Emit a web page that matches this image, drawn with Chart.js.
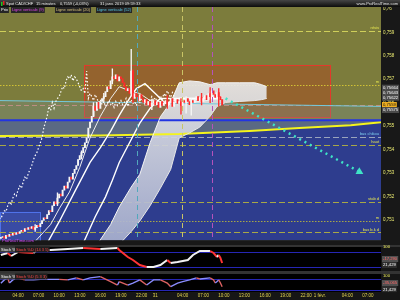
<!DOCTYPE html>
<html>
<head>
<meta charset="utf-8">
<title>Spot CAD/CHF 15 minutes</title>
<script src="https://cdn.jsdelivr.net/npm/chart.js@4.4.1/dist/chart.umd.min.js"></script>
<style>
  html, body { margin: 0; padding: 0; background: #151515; }
  #wrap { position: relative; width: 400px; height: 300px; overflow: hidden; }
  #wrap canvas { position: absolute; left: 0; }
</style>
</head>
<body>
<div id="wrap">
  <canvas id="priceChart" width="400" height="245" style="top:0"></canvas>
  <canvas id="stochSlow" width="400" height="27" style="top:245px"></canvas>
  <canvas id="stochFast" width="400" height="29" style="top:271px"></canvas>
</div>
<script>
// x axis is counted in 15 minute bars, bar 0 = 30 janv. 01:30
const xMin = -0.5, xMax = 221.6;
const xTickBars = [10, 22, 34, 46, 58, 70, 82, 90, 106, 118, 130, 142, 154, 166, 178, 186, 202, 214];
const xTickLabels = ['04:00', '07:00', '10:00', '13:00', '16:00', '19:00', '22:00', '31', '04:00', '07:00',
  '10:00', '13:00', '16:00', '19:00', '22:00', '1 févr.', '04:00', '07:00'];

const priceMin = 0.750126, priceMax = 0.760084;
const priceTicks = [0.760, 0.759, 0.758, 0.757, 0.756, 0.755, 0.754, 0.753, 0.752, 0.751];

// candles: open of a bar is the previous close
const firstOpen = 0.75021;
const closes = [
  0.75025, 0.75029, 0.75021, 0.75034, 0.75029, 0.75038,
  0.75034, 0.75042, 0.75038, 0.75046, 0.75042, 0.75050,
  0.75055, 0.75050, 0.75063, 0.75059, 0.75067, 0.75063,
  0.75071, 0.75059, 0.75067, 0.75076, 0.75071, 0.75084,
  0.75097, 0.75109, 0.75105, 0.75122, 0.75139, 0.75135,
  0.75160, 0.75177, 0.75168, 0.75193, 0.75210, 0.75202,
  0.75227, 0.75244, 0.75235, 0.75261, 0.75282, 0.75273,
  0.75298, 0.75315, 0.75332, 0.75357, 0.75374, 0.75387,
  0.75408, 0.75429, 0.75450, 0.75492, 0.75517, 0.75542,
  0.75584, 0.75567, 0.75601, 0.75576, 0.75605, 0.75618,
  0.75626, 0.75647, 0.75668, 0.75660, 0.75693, 0.75710,
  0.75702, 0.75719, 0.75693, 0.75710, 0.75702, 0.75685,
  0.75668, 0.75651, 0.75660, 0.75639, 0.75735, 0.75618,
  0.75639, 0.75626, 0.75609, 0.75635, 0.75618, 0.75601,
  0.75613, 0.75592, 0.75605, 0.75584, 0.75597, 0.75609,
  0.75592, 0.75601, 0.75580, 0.75605, 0.75588, 0.75597,
  0.75609, 0.75592, 0.75601, 0.75618, 0.75584, 0.75601,
  0.75613, 0.75597, 0.75605, 0.75588, 0.75609, 0.75601,
  0.75618, 0.75605, 0.75592, 0.75609, 0.75601, 0.75613,
  0.75626, 0.75609, 0.75622, 0.75605, 0.75618, 0.75630,
  0.75613, 0.75639, 0.75626, 0.75651, 0.75635, 0.75622,
  0.75643, 0.75626, 0.75613, 0.75590
];
const wickBars  = [20, 33, 47, 54, 60, 65, 76, 77, 88, 97, 105, 108, 111, 117, 122, 127];
const wickLows  = [0.75050, 0.75160, 0.75360, 0.75540, 0.75600, 0.75680, 0.75630, 0.75600,
  0.75570, 0.75575, 0.75551, 0.75555, 0.75547, 0.75590, 0.75600, 0.75585];
const wickHighs = [0.75080, 0.75215, 0.75395, 0.75600, 0.75640, 0.75744, 0.75828, 0.75740,
  0.75615, 0.75630, 0.75618, 0.75626, 0.75618, 0.75640, 0.75664, 0.75660];

// ichimoku
const chikouShift = 26;
const tenkanBars = [20, 29, 34, 40, 46, 52, 58, 64, 69, 75, 81, 87, 99, 116, 129];
const tenkanPrices = [0.75008, 0.75080, 0.75147, 0.75219, 0.75324, 0.75450, 0.75542, 0.75618,
  0.75668, 0.75651, 0.75639, 0.75609, 0.75601, 0.75605, 0.75618];
const kijunBars = [27, 34, 43, 52, 58, 64, 69, 75, 79, 84, 90, 96, 104, 116, 129];
const kijunPrices = [0.75000, 0.75092, 0.75219, 0.75345, 0.75408, 0.75479, 0.75546, 0.75618,
  0.75660, 0.75681, 0.75639, 0.75597, 0.75618, 0.75618, 0.75626];
const kijun2Bars = [48, 55, 61, 65, 69, 75, 81, 87, 93, 102, 110, 122, 129];
const kijun2Prices = [0.75000, 0.75113, 0.75198, 0.75269, 0.75345, 0.75429, 0.75513, 0.75576,
  0.75618, 0.75618, 0.75618, 0.75618, 0.75618];
const cloudBars = [57, 64, 69, 76, 81, 87, 93, 99, 104, 110, 116, 122, 126, 131, 139, 148, 152, 155];
const cloudTop = [0.75004, 0.75080, 0.75155, 0.75240, 0.75294, 0.75429, 0.75540, 0.75601, 0.75685,
  0.75693, 0.75689, 0.75677, 0.75685, 0.75685, 0.75685, 0.75685, 0.75677, 0.75668];
const cloudBottom = [0.74960, 0.74970, 0.74995, 0.75050, 0.75095, 0.75160, 0.75235, 0.75315, 0.75450,
  0.75471, 0.75496, 0.75542, 0.75584, 0.75601, 0.75605, 0.75609, 0.75613, 0.75618];

// drawn objects
const yellowBars = [-0.5, 58, 104, 145, 174, 204, 221.6];
const yellowPrices = [0.75458, 0.75460, 0.75466, 0.75479, 0.75492, 0.75504, 0.75517];
const trendBars = [-0.5, 221.6];
const trendPrices = [0.75609, 0.75584];
const supportPrice = 0.755252;
const levelPrices = [0.75908, 0.75677, 0.75592, 0.75454, 0.75420, 0.75177, 0.75097, 0.75046];
const levelTexts = ['résis', 'm', '', 'bas chikou', 'haut', 'stab d', 'm', 'bas b.k d'];
const zoneBars = [48.5, 192];
const zonePrices = [0.75760, 0.75538];
const boxBars = [-0.5, 22.8];
const boxPrices = [0.75134, 0.74990];
const verticalBars = [123, 105.5, 79.5];
const arrowBars = [131, 209];
const arrowPrices = [0.75618, 0.75305];
const axisTagPrices = [0.75664, 0.75643, 0.75622, 0.7559, 0.75575];
const lastPrice = 0.7559;

// stochastics
const stochLevels = [80, 20];
const stochSlowBars = [0, 4, 6, 10, 14, 19, 21, 29, 39, 48, 58, 68, 69, 74, 77, 81, 85, 89, 93, 97,
  99, 103, 109, 112, 116, 122, 124, 126, 127, 128, 129];
const stochSlowValues = [68, 76, 64, 80, 78, 76, 88, 88, 92, 96, 92, 96, 88, 60, 48, 28, 20, 20, 28, 48,
  36, 40, 48, 68, 84, 84, 76, 60, 68, 56, 36];
const stochFastBars = [0, 2, 4, 5, 7, 9, 14, 19, 23, 34, 39, 44, 48, 52, 58, 64, 68, 69, 74, 77, 81, 85,
  89, 93, 97, 99, 103, 106, 110, 114, 116, 122, 124, 125, 126, 127, 128, 129];
const stochFastValues = [57, 75, 86, 58, 75, 86, 75, 75, 78, 78, 75, 86, 75, 86, 93, 66, 47, 66, 47, 58, 75, 47,
  75, 75, 58, 38, 58, 66, 75, 86, 80, 86, 75, 58, 66, 75, 58, 38];
const stochSlowTags = [[100, '100'], [52, '-17,290'], [28, '21,429']];
const stochFastTags = [[100, '100'], [58, '-35,065'], [25, '21,429']];

const FONT = '"Liberation Sans", Arial, sans-serif';

const pts = (bars, vals) => bars.map((b, i) => ({ x: b, y: vals[i] }));
const opens = closes.map((c, i) => i === 0 ? firstOpen : closes[i - 1]);
const candleColor = i => closes[i] >= opens[i] ? '#f6f6f6' : '#ff2a2a';
const fmtPrice = v => v.toFixed(5).replace(/0+$/, '').replace('.', ',');

function tag(ctx, text, x, y, color, bg, size) {
  ctx.font = (size || 4) + 'px ' + FONT;
  ctx.textBaseline = 'middle';
  ctx.textAlign = 'left';
  const w = ctx.measureText(text).width;
  if (bg) {
    ctx.fillStyle = bg;
    ctx.fillRect(x - 1, y - 3, w + 2, 6);
  }
  ctx.fillStyle = color;
  ctx.fillText(text, x, y + 0.3);
}

function hLine(ctx, a, y, color, width, dash) {
  ctx.strokeStyle = color;
  ctx.lineWidth = width;
  ctx.setLineDash(dash || []);
  ctx.beginPath();
  ctx.moveTo(a.left, y);
  ctx.lineTo(a.right, y);
  ctx.stroke();
}

const levelStyles = [
  ['#cfcf5a', [6, 3]], ['#d2c234', [1.5, 1.5]], ['#cf8a70', [5, 3]], ['#9aa4bc', [6, 3]],
  ['#a8a846', [6, 3]], ['#a8a846', [6, 3]], ['#a8a846', [1.5, 1.5]], ['#a8a846', [6, 3]]
];
const verticalColors = ['#b452bc', '#c9c466', '#52a8bc'];

const priceBackdrop = {
  id: 'priceBackdrop',
  beforeDraw(chart) {
    const { ctx, chartArea: a, scales: { x, y } } = chart;
    ctx.save();
    ctx.fillStyle = '#181818';
    ctx.fillRect(0, 0, chart.width, chart.height);
    ctx.beginPath();
    ctx.rect(a.left, a.top, a.width, a.height);
    ctx.clip();
    ctx.fillStyle = '#7c7c3c';
    ctx.fillRect(a.left, a.top, a.width, a.height);
    const ys = y.getPixelForValue(supportPrice);
    ctx.fillStyle = '#5a6983';
    ctx.fillRect(a.left, ys, a.width, a.bottom - ys);
    // blue area under the yellow average
    ctx.beginPath();
    yellowBars.forEach((b, i) => {
      const px = x.getPixelForValue(b), py = y.getPixelForValue(yellowPrices[i]);
      if (i === 0) ctx.moveTo(px, py); else ctx.lineTo(px, py);
    });
    ctx.lineTo(a.right, a.bottom);
    ctx.lineTo(a.left, a.bottom);
    ctx.closePath();
    ctx.fillStyle = '#2e3d8e';
    ctx.fill();
    // lower left box
    const bx0 = x.getPixelForValue(boxBars[0]), bx1 = x.getPixelForValue(boxBars[1]);
    const by0 = y.getPixelForValue(boxPrices[0]), by1 = y.getPixelForValue(boxPrices[1]);
    ctx.fillStyle = 'rgba(90,120,230,0.25)';
    ctx.fillRect(bx0, by0, bx1 - bx0, by1 - by0);
    ctx.strokeStyle = '#4f72ea';
    ctx.lineWidth = 1;
    ctx.strokeRect(Math.round(bx0) + 0.5, Math.round(by0) + 0.5, Math.round(bx1 - bx0), Math.round(by1 - by0));
    // red zone
    const zx0 = x.getPixelForValue(zoneBars[0]), zx1 = x.getPixelForValue(zoneBars[1]);
    const zy0 = y.getPixelForValue(zonePrices[0]), zy1 = y.getPixelForValue(zonePrices[1]);
    ctx.fillStyle = 'rgba(178,68,28,0.45)';
    ctx.fillRect(zx0, zy0, zx1 - zx0, zy1 - zy0);
    ctx.strokeStyle = '#e3392b';
    ctx.strokeRect(Math.round(zx0) + 0.5, Math.round(zy0) + 0.5, Math.round(zx1 - zx0), Math.round(zy1 - zy0));
    // horizontal levels
    levelPrices.forEach((p, i) => {
      hLine(ctx, a, Math.round(y.getPixelForValue(p)) + 0.5, levelStyles[i][0], 1, levelStyles[i][1]);
    });
    ctx.restore();
  },
  afterDatasetsDraw(chart) {
    const { ctx, chartArea: a, scales: { x } } = chart;
    ctx.save();
    ctx.lineWidth = 1;
    ctx.setLineDash([5, 4]);
    verticalBars.forEach((b, i) => {
      const px = Math.round(x.getPixelForValue(b)) + 0.5;
      ctx.strokeStyle = verticalColors[i];
      ctx.beginPath();
      ctx.moveTo(px, a.top);
      ctx.lineTo(px, a.bottom);
      ctx.stroke();
    });
    ctx.restore();
  },
  afterDraw(chart) {
    const { ctx, chartArea: a, scales: { y } } = chart;
    ctx.save();
    // header bar
    const g = ctx.createLinearGradient(0, 0, 0, 7);
    g.addColorStop(0, '#454545');
    g.addColorStop(1, '#0c0c0c');
    ctx.fillStyle = g;
    ctx.fillRect(0, 0, chart.width, 7);
    ctx.fillStyle = '#22c022';
    ctx.fillRect(1, 2, 1.5, 4);
    ctx.fillStyle = '#e02020';
    ctx.fillRect(3, 1, 1.5, 4);
    tag(ctx, 'Spot CAD/CHF', 6, 3.5, '#e8e8e8');
    tag(ctx, '15 minutes', 36, 3.5, '#e8e8e8');
    tag(ctx, '0,7559 (-0,03%)', 60, 3.5, '#e8e8e8');
    tag(ctx, '31 janv. 2019 09:59:33', 100, 3.5, '#e8e8e8');
    ctx.font = '4px ' + FONT;
    ctx.textAlign = 'right';
    ctx.fillStyle = '#e0e0e0';
    ctx.fillText('www.ProRealTime.com', 398, 4);
    // legend row
    tag(ctx, 'Prix', 1, 10, '#ffffff', '#262626');
    tag(ctx, 'Ligne verticale (9)', 12, 10, '#e246e6', '#262626');
    tag(ctx, 'Ligne verticale (20)', 56, 10, '#d8c27a', '#262626');
    tag(ctx, 'Ligne verticale (52)', 97, 10, '#56c8e4', '#262626');
    // level names near the right edge
    ctx.font = '4px ' + FONT;
    ctx.textAlign = 'right';
    ctx.textBaseline = 'bottom';
    levelPrices.forEach((p, i) => {
      if (!levelTexts[i]) return;
      ctx.fillStyle = levelStyles[i][0] === '#9aa4bc' ? '#7fd0f0' : '#e8e850';
      ctx.fillText(levelTexts[i], a.right - 2, y.getPixelForValue(p) - 1);
    });
    // watermark
    tag(ctx, 'ProRealTime.com', 2, 241, '#d448ff');
    // price tags on the axis
    let prev = -99;
    axisTagPrices.forEach(p => {
      const py = Math.max(y.getPixelForValue(p), prev + 5);
      prev = py;
      const isLast = p === lastPrice;
      tag(ctx, fmtPrice(p), a.right + 2, py,
        isLast ? '#111111' : '#ffffff', isLast ? '#f0b020' : '#4a4a4a', 4.2);
    });
    ctx.restore();
  }
};

const cloudFill = c => {
  const ch = c.chart, a = ch.chartArea;
  if (!a) return 'rgba(220,220,228,0.85)';
  const g = ch.ctx.createLinearGradient(0, a.top + 75, 0, a.bottom);
  g.addColorStop(0, 'rgba(232,232,232,0.92)');
  g.addColorStop(1, 'rgba(168,176,206,0.92)');
  return g;
};

new Chart(document.getElementById('priceChart'), {
  type: 'line',
  data: {
    datasets: [
      { label: 'arrow', data: pts(arrowBars, arrowPrices), borderColor: '#3fe3c6', borderWidth: 2.5,
        borderDash: [2, 4], pointRadius: [0, 4.5], pointStyle: 'triangle', pointRotation: 119,
        pointBackgroundColor: '#3fe3c6', pointBorderWidth: 0, order: 0 },
      { type: 'bar', label: 'candles', data: closes.map((c, i) => ({ x: i, y: [opens[i], c] })),
        backgroundColor: closes.map((c, i) => candleColor(i)), barThickness: 1.3, grouped: false, order: 1 },
      { type: 'bar', label: 'wicks', data: wickBars.map((b, i) => ({ x: b, y: [wickLows[i], wickHighs[i]] })),
        backgroundColor: wickBars.map(b => candleColor(b)), barThickness: 0.7, grouped: false, order: 2 },
      { label: 'chikou', data: closes.map((c, i) => ({ x: i - chikouShift, y: c })), borderColor: '#ffffff',
        borderWidth: 1.2, borderDash: [1.5, 2], order: 3 },
      { label: 'tenkan', data: pts(tenkanBars, tenkanPrices), borderColor: '#eeeeee', borderWidth: 1, order: 3 },
      { label: 'kijun', data: pts(kijunBars, kijunPrices), borderColor: '#ffffff', borderWidth: 1.4, order: 3 },
      { label: 'kijun2', data: pts(kijun2Bars, kijun2Prices), borderColor: '#ffffff', borderWidth: 1.4, order: 3 },
      { label: 'cloudTop', data: pts(cloudBars, cloudTop), borderColor: '#f4f4f4', borderWidth: 1,
        fill: '+1', backgroundColor: cloudFill, order: 4 },
      { label: 'cloudBottom', data: pts(cloudBars, cloudBottom), borderColor: '#e6e6e6', borderWidth: 1, order: 4 },
      { label: 'trend', data: pts(trendBars, trendPrices), borderColor: '#74c9dc', borderWidth: 1,
        fill: '+1', backgroundColor: 'rgba(120,160,190,0.22)', order: 5 },
      { label: 'support', data: [{ x: xMin, y: supportPrice }, { x: xMax, y: supportPrice }],
        borderColor: '#2234e2', borderWidth: 2, order: 5 },
      { label: 'average', data: pts(yellowBars, yellowPrices), borderColor: '#f4f41c', borderWidth: 2, order: 5 }
    ]
  },
  options: {
    responsive: false,
    animation: false,
    devicePixelRatio: 1,
    events: [],
    layout: { autoPadding: false, padding: { top: 7, bottom: 1, left: 0, right: 0 } },
    elements: { point: { radius: 0 }, line: { tension: 0, fill: false } },
    plugins: {
      legend: { display: false },
      tooltip: { enabled: false },
      filler: { drawTime: 'beforeDatasetsDraw' }
    },
    scales: {
      x: { type: 'linear', min: xMin, max: xMax, display: false, offset: false },
      y: {
        position: 'right', min: priceMin, max: priceMax,
        grid: { display: false, drawTicks: false }, border: { display: false },
        afterFit: s => { s.width = 19; },
        afterBuildTicks: s => { s.ticks = priceTicks.map(v => ({ value: v })); },
        ticks: { color: '#eeee72', font: { size: 4.5, family: FONT }, padding: 2, callback: v => fmtPrice(v) }
      }
    }
  },
  plugins: [priceBackdrop]
});

function stochPanel(title, params, tags) {
  return {
    id: 'stochPanel',
    beforeDraw(chart) {
      const { ctx, chartArea: a, scales: { y } } = chart;
      ctx.save();
      ctx.fillStyle = '#161616';
      ctx.fillRect(0, 0, chart.width, chart.height);
      ctx.fillStyle = '#333333';
      ctx.fillRect(0, 0, chart.width, a.top);
      ctx.fillStyle = '#000000';
      ctx.fillRect(a.left, a.top, a.width, a.height);
      stochLevels.forEach(v => hLine(ctx, a, Math.round(y.getPixelForValue(v)) + 0.5, '#2626b4', 1));
      ctx.restore();
    },
    afterDraw(chart) {
      const { ctx, chartArea: a, scales: { y } } = chart;
      ctx.save();
      tag(ctx, title, 1, a.top + 2.5, '#ffffff', '#3c3c3c');
      tag(ctx, params, 16, a.top + 2.5, '#ff4a4a', '#1e1e1e');
      tags.forEach(([v, text], i) => {
        const py = y.getPixelForValue(v);
        if (i === 0) tag(ctx, text, a.right + 2, py, '#f0f060', null, 4.2);
        else tag(ctx, text, a.right + 2, py, i === 1 ? '#ff6a6a' : '#ffffff', i === 1 ? '#505050' : '#2e2e2e', 4.2);
      });
      ctx.restore();
    }
  };
}

function stochChart(id, bars, values, yMin, yMax, padTop, up, down, width, showTime, panel) {
  return new Chart(document.getElementById(id), {
    type: 'line',
    data: {
      datasets: [{
        data: pts(bars, values), borderWidth: width, pointRadius: 0, tension: 0,
        segment: { borderColor: c => c.p1.parsed.y < c.p0.parsed.y ? down : up }
      }]
    },
    options: {
      responsive: false,
      animation: false,
      devicePixelRatio: 1,
      events: [],
      layout: { autoPadding: false, padding: { top: padTop, right: 19, left: 0, bottom: 0 } },
      plugins: { legend: { display: false }, tooltip: { enabled: false } },
      scales: {
        x: showTime ? {
          type: 'linear', min: xMin, max: xMax, offset: false,
          grid: { display: false, drawTicks: false }, border: { display: false },
          afterFit: s => { s.height = 8; },
          afterBuildTicks: s => { s.ticks = xTickBars.map(v => ({ value: v })); },
          ticks: { autoSkip: false, maxRotation: 0, color: '#e4d44e', font: { size: 4.5, family: FONT },
            padding: 1.5, callback: (v, i) => xTickLabels[i] }
        } : { type: 'linear', min: xMin, max: xMax, display: false, offset: false },
        y: { min: yMin, max: yMax, display: false }
      }
    },
    plugins: [panel]
  });
}

stochChart('stochSlow', stochSlowBars, stochSlowValues, 0, 100, 2, '#f2f2f2', '#ff3434', 2, false,
  stochPanel('Stoch %K', 'Stoch %D (14 3 5)', stochSlowTags));
stochChart('stochFast', stochFastBars, stochFastValues, 9.1, 107.3, 3, '#8a8cff', '#dc6262', 1.4, true,
  stochPanel('Stoch %K', 'Stoch %D (5 3 3)', stochFastTags));
</script>
</body>
</html>
